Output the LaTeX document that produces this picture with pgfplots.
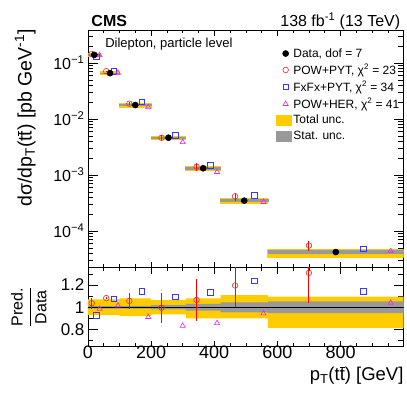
\documentclass[border=0pt]{standalone}
\usepackage{fontspec}
\setmainfont{Liberation Sans}
\usepackage{pgfplots}
\usepackage{pgfplotstable}
\pgfplotsset{compat=1.18}
\usepgfplotslibrary{fillbetween}

\definecolor{totunc}{HTML}{FFCC00}
\definecolor{statunc}{HTML}{999999}
\definecolor{powpyt}{HTML}{FF2020}
\definecolor{fxfx}{HTML}{3838F0}
\definecolor{powher}{HTML}{F020F0}

% ratio bands: bin left edges, relative total unc. (down/up), relative stat. unc.
\pgfplotstableread{
x    lo     hi     st
0    0.070  0.070  0.012
40   0.070  0.070  0.012
100  0.080  0.080  0.012
200  0.065  0.065  0.020
310  0.100  0.080  0.030
420  0.100  0.110  0.045
570  0.185  0.095  0.053
1000 0.185  0.095  0.053
}\bands

\pgfplotstableread{
x   d
20  0.140
70  0.066
150 0.0178
255 0.00464
365 0.00132
495 0.000348
785 4.2e-5
}\data

% x, data value of the bin, prediction/data, error on the ratio
\pgfplotstableread{
x   d        r     e
12  0.140    1.036 0.050
58  0.066    1.082 0.010
131 0.0178   1.057 0.073
233 0.00464  0.996 0.136
344 0.00132  1.066 0.190
466 0.000348 1.196 0.197
700 4.2e-5   1.309 0.270
}\powpyt

\pgfplotstableread{
x   d        r
27  0.140    0.930
82  0.066    1.075
171 0.0178   1.142
277 0.00464  1.094
388 0.00132  1.133
527 0.000348 1.239
872 4.2e-5   1.142
}\fxfx

\pgfplotstableread{
x   d        r
37  0.140    0.985
95  0.066    1.015
191 0.0178   0.912
300 0.00464  0.833
409 0.00132  0.857
556 0.000348 0.945
959 4.2e-5   1.040
}\powher

\pgfplotsset{
  cmsbase/.style={
    scale only axis, width=316pt,
    xmin=0, xmax=1000,
    xtick={0,200,...,1000}, minor x tick num=3,
    tick align=inside,
    major tick length=10pt, minor tick length=5.5pt,
    xtick style={/pgfplots/major tick length=6pt, /pgfplots/minor tick length=3.5pt},
    tick style={black, line width=0.6pt},
    axis line style={line width=0.7pt},
    every axis plot/.append style={line width=0.6pt},
  },
  totband/.style={fill=totunc, draw=totunc, line width=1pt, forget plot},
  statband/.style={fill=statunc, draw=statunc, line width=0.7pt, forget plot},
  redbars/.style={error bars/.cd, y dir=both, y explicit, error mark=none,
    error bar style={red, line width=1pt}},
}

\begin{document}
\begin{tikzpicture}
\begin{axis}[
  cmsbase, name=top, height=238pt,
  ymode=log, ymin=2.2e-5, ymax=0.39,
  xticklabels={},
  ytick={1e-4,1e-3,1e-2,1e-1},
  yticklabels={10\textsuperscript{−4},10\textsuperscript{−3},10\textsuperscript{−2},10\textsuperscript{−1}},
  minor ytick={3e-5,4e-5,5e-5,6e-5,7e-5,8e-5,9e-5,
    2e-4,3e-4,4e-4,5e-4,6e-4,7e-4,8e-4,9e-4,
    2e-3,3e-3,4e-3,5e-3,6e-3,7e-3,8e-3,9e-3,
    2e-2,3e-2,4e-2,5e-2,6e-2,7e-2,8e-2,9e-2,
    2e-1,3e-1},
  yticklabel style={font=\fontsize{16}{16}\selectfont},
  legend style={at={(rel axis cs:0.585,0.94)}, anchor=north west,
    draw=none, fill=none, font=\fontsize{12}{13}\selectfont,
    row sep=1.6pt, cells={anchor=west}},
  legend cell align=left,
]
\addlegendimage{only marks, mark=*, black, mark size=3pt}
\addlegendentry{Data, dof = 7}
\addlegendimage{only marks, mark=o, powpyt, mark size=2.8pt}
\addlegendentry{POW+PYT, χ\textsuperscript{2} = 23}
\addlegendimage{only marks, mark=square, fxfx, mark size=2.8pt}
\addlegendentry{FxFx+PYT, χ\textsuperscript{2} = 34}
\addlegendimage{only marks, mark=triangle, powher, mark size=3pt}
\addlegendentry{POW+HER, χ\textsuperscript{2} = 41}
\addlegendimage{legend image code/.code={\fill[totunc] (-1pt,-5pt) rectangle (14pt,5pt);}}
\addlegendentry{Total unc.}
\addlegendimage{legend image code/.code={\fill[statunc] (-1pt,-5pt) rectangle (14pt,5pt);}}
\addlegendentry{Stat. unc.}

% total uncertainty per bin
\addplot[totband] coordinates {(0,0.1302) (40,0.1302) (40,0.1498) (0,0.1498)} -- cycle;
\addplot[totband] coordinates {(40,0.06138) (100,0.06138) (100,0.07062) (40,0.07062)} -- cycle;
\addplot[totband] coordinates {(100,0.016376) (200,0.016376) (200,0.019224) (100,0.019224)} -- cycle;
\addplot[totband] coordinates {(200,0.0043384) (310,0.0043384) (310,0.0049416) (200,0.0049416)} -- cycle;
\addplot[totband] coordinates {(310,0.001188) (420,0.001188) (420,0.0014256) (310,0.0014256)} -- cycle;
\addplot[totband] coordinates {(420,0.0003132) (570,0.0003132) (570,0.00038628) (420,0.00038628)} -- cycle;
\addplot[totband] coordinates {(570,3.423e-5) (1000,3.423e-5) (1000,4.599e-5) (570,4.599e-5)} -- cycle;
% statistical uncertainty per bin
\addplot[statband] coordinates {(0,0.13832) (40,0.13832) (40,0.14168) (0,0.14168)} -- cycle;
\addplot[statband] coordinates {(40,0.065208) (100,0.065208) (100,0.066792) (40,0.066792)} -- cycle;
\addplot[statband] coordinates {(100,0.017586) (200,0.017586) (200,0.018014) (100,0.018014)} -- cycle;
\addplot[statband] coordinates {(200,0.0045472) (310,0.0045472) (310,0.0047328) (200,0.0047328)} -- cycle;
\addplot[statband] coordinates {(310,0.0012804) (420,0.0012804) (420,0.0013596) (310,0.0013596)} -- cycle;
\addplot[statband] coordinates {(420,0.00033234) (570,0.00033234) (570,0.00036366) (420,0.00036366)} -- cycle;
\addplot[statband] coordinates {(570,3.9774e-5) (1000,3.9774e-5) (1000,4.4226e-5) (570,4.4226e-5)} -- cycle;

\addplot[only marks, mark=o, powpyt, mark size=2.8pt, forget plot, redbars]
  table[x=x, y expr=\thisrow{d}*\thisrow{r}, y error expr=\thisrow{d}*\thisrow{e}] {\powpyt};
\addplot[only marks, mark=square, fxfx, mark size=2.8pt, forget plot]
  table[x=x, y expr=\thisrow{d}*\thisrow{r}] {\fxfx};
\addplot[only marks, mark=triangle, powher, mark size=3pt, forget plot]
  table[x=x, y expr=\thisrow{d}*\thisrow{r}] {\powher};
\addplot[only marks, mark=*, black, mark size=3pt, forget plot]
  table[x=x, y=d] {\data};

\node[anchor=base west, font=\fontsize{13}{13}\selectfont] at (rel axis cs:0.044,0.926) {Dilepton, particle level};
\end{axis}

\begin{axis}[
  cmsbase, name=ratio, at={(top.south west)}, anchor=north west, height=79pt,
  ymin=0.645, ymax=1.355,
  xticklabels={0,200,400,600,800,{}},
  xticklabel style={font=\fontsize{18}{18}\selectfont, inner sep=1pt, yshift=1.5pt},
  ytick={0.8,1,1.2}, yticklabels={0.8,1,1.2},
  minor ytick={0.7,0.9,1.1,1.3},
  yticklabel style={font=\fontsize{17}{17}\selectfont},
]
\addplot[const plot, draw=none, name path=rtu, forget plot] table[x=x, y expr=1+\thisrow{hi}] {\bands};
\addplot[const plot, draw=none, name path=rtl, forget plot] table[x=x, y expr=1-\thisrow{lo}] {\bands};
\addplot[totunc, forget plot] fill between[of=rtu and rtl];
\addplot[const plot, draw=none, name path=rsu, forget plot] table[x=x, y expr=1+\thisrow{st}] {\bands};
\addplot[const plot, draw=none, name path=rsl, forget plot] table[x=x, y expr=1-\thisrow{st}] {\bands};
\addplot[statunc, forget plot] fill between[of=rsu and rsl];
\addplot[black, line width=0.6pt, forget plot] coordinates {(0,1) (1000,1)};

\addplot[only marks, mark=o, powpyt, mark size=2.8pt, forget plot, redbars]
  table[x=x, y=r, y error=e] {\powpyt};
\addplot[only marks, mark=square, fxfx, mark size=2.8pt, forget plot] table[x=x, y=r] {\fxfx};
\addplot[only marks, mark=triangle, powher, mark size=3pt, forget plot] table[x=x, y=r] {\powher};
\end{axis}

\node[anchor=base west, font=\fontsize{16}{16}\selectfont\bfseries] at ([yshift=3.5pt]top.north west) {CMS};
\node[anchor=base east, font=\fontsize{16}{16}\selectfont] at ([yshift=3.5pt]top.north east) {138 fb\textsuperscript{-1} (13 TeV)};
\node[rotate=90, anchor=south east, inner sep=0pt, font=\fontsize{19.5}{19.5}\selectfont] at ([xshift=-52pt,yshift=1pt]top.north west)
  {dσ/dp\textsubscript{T}(t$\overline{\mbox{t}}$) [pb GeV\textsuperscript{-1}]};
\node[rotate=90, anchor=south, font=\fontsize{16}{16}\selectfont] at ([xshift=-38pt]ratio.west)
  {$\displaystyle\frac{\mbox{Pred.}}{\mbox{Data}}$};
\node[anchor=base east, inner sep=0pt, font=\fontsize{18.5}{18.5}\selectfont] at ([yshift=-34pt]ratio.south east)
  {p\textsubscript{T}(t$\overline{\mbox{t}}$) [GeV]};
\path ([xshift=-88pt,yshift=30pt]top.north west) rectangle ++(407pt,-394pt);
\end{tikzpicture}
\end{document}
